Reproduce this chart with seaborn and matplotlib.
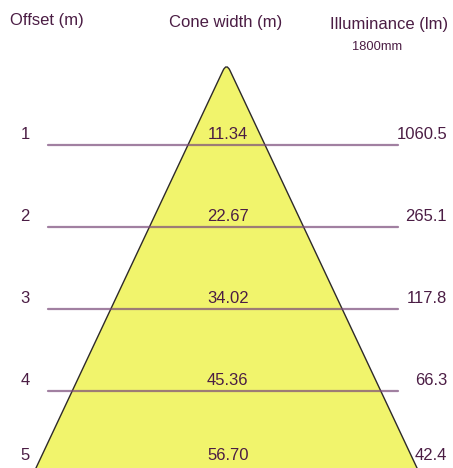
import matplotlib
matplotlib.use("Agg")
import matplotlib.pyplot as plt
from matplotlib.path import Path
from matplotlib.patches import PathPatch
import numpy as np
import pandas as pd
import seaborn as sns

# data
offsets = [1, 2, 3, 4, 5]
cone_widths = [11.34, 22.67, 34.02, 45.36, 56.70]
illuminance = ["1060.5", "265.1", "117.8", "66.3", "42.4"]
height_note = "1800mm"

sns.set_theme(style="white")
plt.rcParams['font.family'] = ['Liberation Sans', 'DejaVu Sans']
txt = '#4b1d44'

fig = plt.figure(figsize=(4.53, 4.68), dpi=100)
ax = fig.add_axes([0, 0, 1, 1])

# cone: apex at offset 0, half width from the widths, rounded tip
half = np.array(cone_widths) / 2.0
slope = half[0] / offsets[0]
r = 0.09
far = offsets[-1] + 0.3
verts = [(-slope * r, r), (0, 0), (slope * r, r),
         (slope * far, far), (-slope * far, far), (-slope * r, r)]
codes = [Path.MOVETO, Path.CURVE3, Path.CURVE3,
         Path.LINETO, Path.LINETO, Path.CLOSEPOLY]
cone = PathPatch(Path(verts, codes), facecolor='#f1f46c',
                 edgecolor='#2e2a2a', lw=1.0, zorder=1)
ax.add_patch(cone)

# offset lines (row 5 runs below the picture)
rows = pd.DataFrame({
    'x': [-26.3, 25.2] * 4,
    'offset': np.repeat(offsets[:4], 2),
})
sns.lineplot(data=rows, x='x', y='offset', units='offset', estimator=None,
             sort=False, color='#7a4a7a', alpha=0.7, lw=1.6, ax=ax, zorder=2)
ax.set_xlim(-33.3, 33.3)
ax.set_ylim(4.94, -0.77)
ax.axis('off')

tr_left = matplotlib.transforms.blended_transform_factory(fig.transFigure, ax.transData)
for off, w, lum in zip(offsets, cone_widths, illuminance):
    ty = min(off - 0.07, 4.84)
    ax.text(25 / 453, ty, str(off), transform=tr_left, ha='center',
            va='baseline', fontsize=12, color=txt, zorder=3)
    ax.text(0.2, ty, f"{w:.2f}", ha='center', va='baseline',
            fontsize=12, color=txt, zorder=3)
    ax.text(447 / 453, ty, lum, transform=tr_left, ha='right',
            va='baseline', fontsize=12, color=txt, zorder=3)

fig.text(10 / 453, 1 - 20 / 468, "Offset (m)", ha='left', va='center',
         fontsize=12, color=txt)
fig.text(226 / 453, 1 - 22 / 468, "Cone width (m)", ha='center', va='center',
         fontsize=12, color=txt)
fig.text(330 / 453, 1 - 25 / 468, "Illuminance (lm)", ha='left', va='center',
         fontsize=12, color=txt)
fig.text(352 / 453, 1 - 47 / 468, height_note, ha='left', va='center',
         fontsize=9.3, color=txt)

fig.savefig('out.png', dpi=100)
